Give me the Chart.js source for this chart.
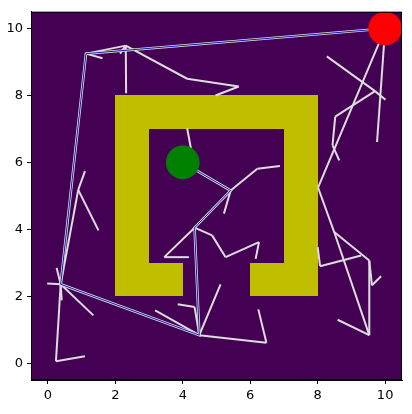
<!DOCTYPE html>
<html>
<head>
<meta charset="utf-8">
<script src="https://cdn.jsdelivr.net/npm/chart.js@4.4.1/dist/chart.umd.min.js"></script>
<style>
  html, body { margin: 0; padding: 0; background: #fff; }
  #wrap { width: 412px; height: 414px; }
</style>
</head>
<body>
<div id="wrap"><canvas id="c" width="412" height="414"></canvas></div>
<script>
// axis ticks
const tickVals = [0, 2, 4, 6, 8, 10];

// obstacle blocks: [x0, x1, y0, y1]
const walls = [
    [2, 8, 7, 8],
    [2, 3, 2, 7],
    [7, 8, 2, 7],
    [3, 4, 2, 3],
    [6, 7, 2, 3]
];

// start / goal
const startPt = [4, 6];
const goalPt = [10, 10];

// found path (start -> goal)
const pathX = [4.0, 5.42, 4.35, 4.49, 0.38, 1.13, 10.0];
const pathY = [6.0, 5.16, 4.05, 0.84, 2.36, 9.25, 10.0];

// tree edges: [x1, y1, x2, y2]
const treeEdges = [
    [1.13, 9.25, 1.62, 9.11],
    [1.13, 9.25, 2.31, 9.49],
    [2.31, 9.49, 2.32, 8.07],
    [2.31, 9.49, 2.14, 9.25],
    [2.31, 9.49, 4.13, 8.50],
    [4.13, 8.50, 5.66, 8.27],
    [5.66, 8.27, 4.97, 8.00],
    [1.10, 5.74, 0.90, 5.18],
    [0.90, 5.18, 1.50, 3.97],
    [0.90, 5.18, 0.38, 2.36],
    [0.38, 2.36, -0.02, 2.38],
    [0.38, 2.36, 0.26, 2.85],
    [0.38, 2.36, 1.35, 1.43],
    [0.38, 2.36, 0.41, 1.88],
    [0.38, 2.36, 0.24, 0.06],
    [0.24, 0.06, 1.10, 0.21],
    [4.49, 0.84, 3.18, 1.58],
    [4.49, 0.84, 4.35, 1.68],
    [4.35, 1.68, 3.85, 1.76],
    [4.49, 0.84, 5.12, 2.36],
    [4.49, 0.84, 6.48, 0.61],
    [6.48, 0.61, 6.24, 1.61],
    [4.35, 4.05, 3.45, 3.17],
    [3.45, 3.17, 4.18, 3.17],
    [4.35, 4.05, 4.87, 3.82],
    [4.87, 3.82, 5.27, 3.17],
    [5.27, 3.17, 6.26, 3.62],
    [6.26, 3.62, 6.16, 3.12],
    [5.42, 5.16, 5.22, 4.47],
    [5.42, 5.16, 6.21, 5.81],
    [6.21, 5.81, 6.88, 5.89],
    [4.13, 7.02, 4.30, 6.10],
    [8.27, 9.17, 9.70, 8.13],
    [9.70, 8.13, 10.01, 7.87],
    [9.70, 8.13, 8.52, 7.37],
    [8.52, 7.37, 8.44, 6.51],
    [8.44, 6.51, 8.64, 6.06],
    [10.0, 10.0, 9.76, 6.61],
    [10.0, 10.0, 8.01, 5.25],
    [8.01, 5.25, 8.49, 3.92],
    [8.49, 3.92, 9.53, 3.07],
    [8.49, 3.92, 9.53, 0.84],
    [9.53, 3.07, 9.53, 0.84],
    [9.53, 3.07, 9.61, 2.33],
    [9.61, 2.33, 9.88, 2.60],
    [8.00, 3.47, 8.07, 2.90],
    [8.07, 2.90, 9.29, 3.22],
    [8.59, 1.30, 9.53, 0.84]
];

const circleR = 0.5;

Chart.defaults.font.family = "'DejaVu Sans', sans-serif";
Chart.defaults.font.size = 13;
Chart.defaults.color = '#000';

// purple background + yellow blocks, drawn under the datasets
const mapPlugin = {
    id: 'mapBg',
    beforeDatasetsDraw(chart) {
        const { ctx, chartArea, scales: { x, y } } = chart;
        ctx.save();
        ctx.fillStyle = '#440154';
        ctx.fillRect(chartArea.left, chartArea.top, chartArea.width, chartArea.height);
        ctx.fillStyle = '#bfbf00';
        // snap to whole pixels so touching blocks don't leave seams
        walls.forEach(w => {
            const x0 = Math.round(x.getPixelForValue(w[0])), x1 = Math.round(x.getPixelForValue(w[1]));
            const y0 = Math.round(y.getPixelForValue(w[2])), y1 = Math.round(y.getPixelForValue(w[3]));
            ctx.fillRect(x0, y1, x1 - x0, y0 - y1);
        });
        ctx.restore();
    },
    afterDraw(chart) {
        const { ctx, chartArea } = chart;
        ctx.save();
        ctx.strokeStyle = '#000';
        ctx.lineWidth = 1;
        ctx.strokeRect(chartArea.left + 0.5, chartArea.top + 0.5, chartArea.width - 1, chartArea.height - 1);
        ctx.restore();
    }
};

function radiusPx(ctx) {
    const xs = ctx.chart.scales.x;
    return Math.abs(xs.getPixelForValue(circleR) - xs.getPixelForValue(0));
}

const datasets = [];
datasets.push({
    data: [{ x: startPt[0], y: startPt[1] }],
    pointRadius: radiusPx, pointBackgroundColor: '#008000', pointBorderWidth: 0,
    order: 0
});
datasets.push({
    data: [{ x: goalPt[0], y: goalPt[1] }],
    pointRadius: radiusPx, pointBackgroundColor: '#ff0000', pointBorderWidth: 0,
    order: 0
});
const pathData = pathX.map((v, i) => ({ x: v, y: pathY[i] }));
datasets.push({
    data: pathData, showLine: true, borderColor: '#1a1aa8', borderWidth: 1,
    pointRadius: 0, order: 1
});
datasets.push({
    data: pathData, showLine: true, borderColor: '#dddddd', borderWidth: 2.6,
    pointRadius: 0, order: 2
});
treeEdges.forEach(e => {
    datasets.push({
        data: [{ x: e[0], y: e[1] }, { x: e[2], y: e[3] }],
        showLine: true, borderColor: '#dddddd', borderWidth: 2,
        pointRadius: 0, order: 3
    });
});

const axisCommon = {
    type: 'linear', min: -0.5, max: 10.5,
    afterBuildTicks: s => { s.ticks = tickVals.map(v => ({ value: v })); },
    grid: { drawOnChartArea: false, drawTicks: true, tickLength: 4, color: '#000' },
    border: { display: true, color: '#000' },
    ticks: { padding: 4, color: '#000', maxRotation: 0 }
};

new Chart(document.getElementById('c'), {
    type: 'scatter',
    data: { datasets: datasets },
    options: {
        responsive: false,
        animation: false,
        clip: false,
        layout: { padding: { top: 11, right: 10, left: 0, bottom: 0 } },
        plugins: { legend: { display: false }, tooltip: { enabled: false } },
        scales: {
            x: Object.assign({}, axisCommon, { afterFit: s => { s.height = 34; } }),
            y: Object.assign({}, axisCommon, { afterFit: s => { s.width = 31; } })
        }
    },
    plugins: [mapPlugin]
});
</script>
</body>
</html>
